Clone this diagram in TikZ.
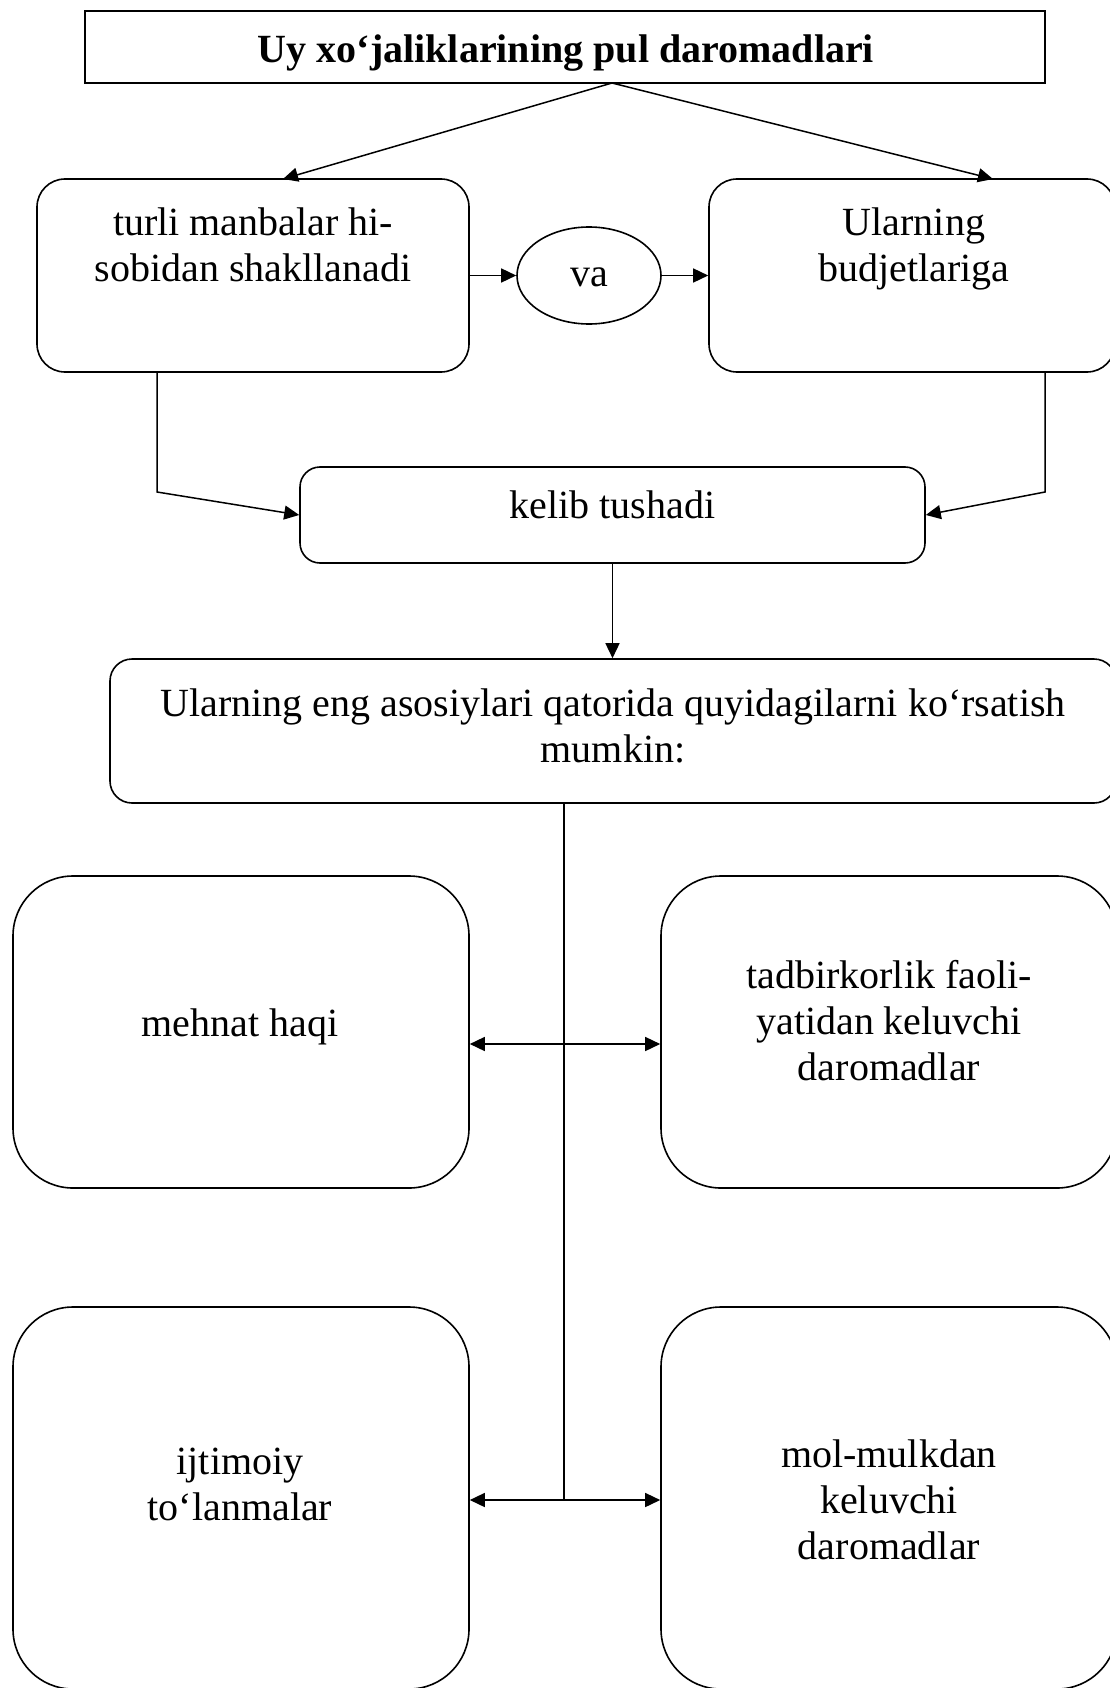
\documentclass[tikz,border=0pt]{standalone}
\usepackage{fontspec}
\setmainfont{Liberation Serif}
\usetikzlibrary{arrows.meta,shapes.geometric,calc}
\tikzset{
  box/.style={draw, line width=1.6pt, inner sep=0pt},
  txt/.style={anchor=base, inner sep=0pt, font=\fontsize{40}{46}\selectfont},
  tip/.tip={Triangle[length=15pt,width=14pt]},
  arr/.style={line width=1.5pt, -tip},
  dbl/.style={line width=1.5pt, tip-tip},
  ln/.style={line width=1.5pt}
}
\newcommand\mlines[1]{\begin{tabular}[t]{@{}c@{}}#1\end{tabular}}
\begin{document}
\begin{tikzpicture}[x=1pt,y=-1pt]
\useasboundingbox (0,0) rectangle (1109,1688);
% boxes
\node[box, line width=2.2pt, minimum width=960pt, minimum height=72pt] (title) at (565,47) {};
\node[box, rounded corners=28pt, minimum width=432pt, minimum height=193pt] (lb) at (253,275.5) {};
\node[box, rounded corners=28pt, minimum width=406pt, minimum height=193pt] (rb) at (912,275.5) {};
\node[box, ellipse, minimum width=144pt, minimum height=97pt] (va) at (589,275.5) {};
\node[box, rounded corners=20pt, minimum width=625pt, minimum height=96pt] (kelib) at (612.5,515) {};
\node[box, rounded corners=22pt, minimum width=1006pt, minimum height=144pt] (big) at (613,731) {};
\node[box, rounded corners=60pt, minimum width=456pt, minimum height=312pt] (mehnat) at (241,1032) {};
\node[box, rounded corners=60pt, minimum width=456pt, minimum height=312pt] (tadbir) at (889,1032) {};
\node[box, rounded corners=60pt, minimum width=456pt, minimum height=382pt] (ijt) at (241,1498) {};
\node[box, rounded corners=60pt, minimum width=456pt, minimum height=382pt] (mol) at (889,1498) {};
% texts
\node[txt, font=\fontsize{40}{46}\selectfont\bfseries] (titletxt) at (566,63) {Uy xo‘jaliklarining pul daromadlari};
\node[txt] (lbtxt) at (253,236) {\mlines{turli manbalar hi-\\sobidan shakllanadi}};
\node[txt] (rbtxt) at (914,236) {\mlines{Ularning\\budjetlariga}};
\node[txt] (vatxt) at (589.5,287) {va};
\node[txt] (keltxt) at (612.5,518) {kelib tushadi};
\node[txt] (bigtxt) at (613,716) {\mlines{Ularning eng asosiylari qatorida quyidagilarni ko‘rsatish\\mumkin:}};
\node[txt] (mehtxt) at (240,1036) {mehnat haqi};
\node[txt] (tadtxt) at (889,988) {\mlines{tadbirkorlik faoli-\\yatidan keluvchi\\daromadlar}};
\node[txt] (ijttxt) at (240,1474) {\mlines{ijtimoiy\\to‘lanmalar}};
\node[txt] (moltxt) at (889,1467) {\mlines{mol-mulkdan\\keluvchi\\daromadlar}};
% connectors
\coordinate (t0) at (612,83);
\coordinate (tl) at (283,179);
\coordinate (tr) at (993,179);
\draw[arr] (t0) -- (tl);
\draw[arr] (t0) -- (tr);
\draw[arr] (lb.east) -- (va.west);
\draw[arr] (va.east) -- (rb.west);
\coordinate (c1) at (157,492);
\coordinate (c2) at (1045,492);
\draw[arr] (lb.south -| c1) -- (c1) -- (kelib.west);
\draw[arr] (rb.south -| c2) -- (c2) -- (kelib.east);
\draw[arr] (kelib.south) -- (kelib.south |- big.north);
\coordinate (j1) at (564,1044);
\coordinate (j2) at (564,1500);
\draw[ln] (j2 |- big.south) -- (j2);
\draw[dbl] (mehnat.east |- j1) -- (tadbir.west |- j1);
\draw[dbl] (ijt.east |- j2) -- (mol.west |- j2);
\end{tikzpicture}
\end{document}
